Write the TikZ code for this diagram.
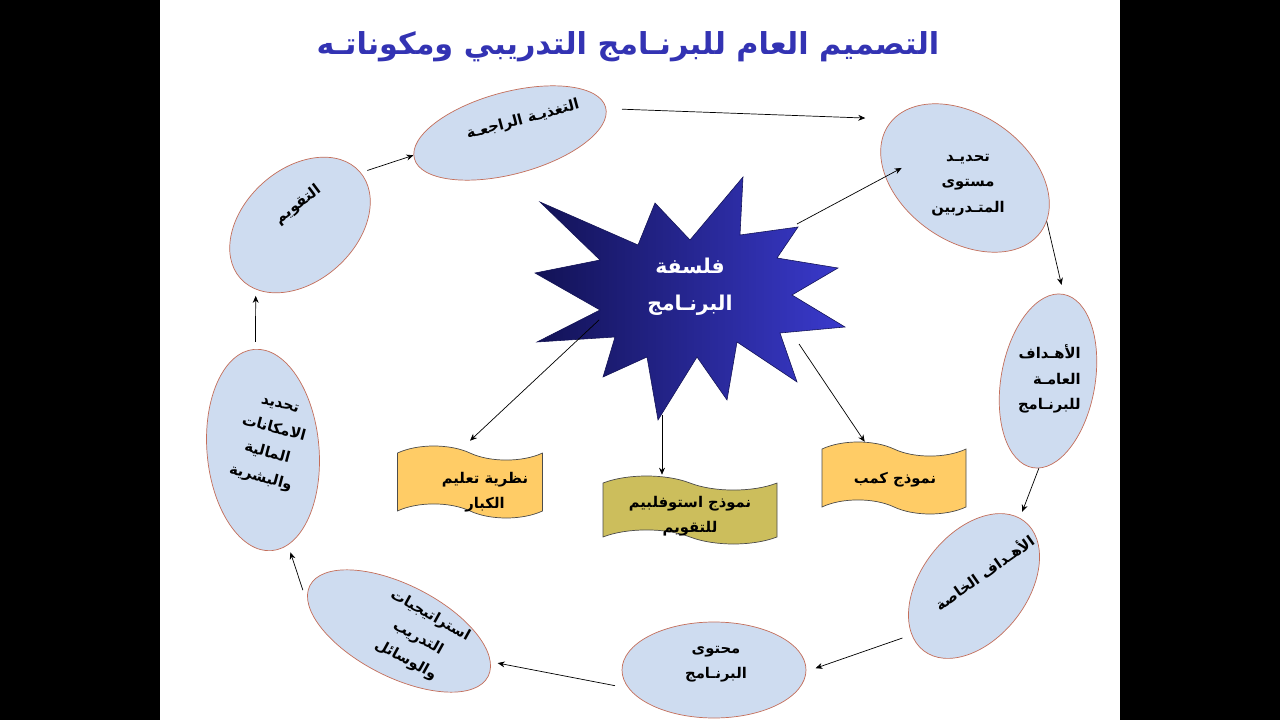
\documentclass[tikz,border=0pt]{standalone}
\usepackage{fontspec}
\usetikzlibrary{shapes.geometric,shapes.symbols,arrows.meta,calc}
\newfontfamily\arabicfont[Script=Arabic]{DejaVu Sans}
\TeXXeTstate=1
\newdimen\upx \upx=0.025cm
\newcommand{\artx}[1]{\beginR #1\endR}
\definecolor{titelblau}{RGB}{51,51,179}
\definecolor{ellfill}{RGB}{206,220,240}
\definecolor{ellrand}{RGB}{196,110,90}
\definecolor{gelb}{RGB}{255,204,102}
\definecolor{oliv}{RGB}{204,190,92}
\definecolor{sterndunkel}{RGB}{18,18,85}
\definecolor{sternhell}{RGB}{58,58,205}
\tikzset{
  ell/.style={ellipse, draw=ellrand, fill=ellfill, line width=0.5pt, inner sep=0pt},
  txt/.style={font=\arabicfont\bfseries\fontsize{10.5}{18}\selectfont, align=center, inner sep=0pt},
  flag/.style={tape, draw=black!70, line width=0.5pt, tape bend height=10pt, inner sep=0pt,
    tape bend top=out and in, tape bend bottom=out and in},
  arr/.style={-{Stealth[length=5pt,width=4.2pt]}, line width=0.5pt},
  stern/.style={left color=sterndunkel, right color=sternhell, draw=sterndunkel, line width=0.4pt},
}
\begin{document}
\begin{tikzpicture}[x=0.025cm, y=-0.025cm]
% Hintergrund
\fill[black] (0,0) rectangle (1280,720);
\fill[white] (160,0) rectangle (1120,720);
\useasboundingbox (0,0) rectangle (1280,720);

% Titel
\node[font=\arabicfont\bfseries\fontsize{21.5}{26}\selectfont, text=titelblau] (titel) at (628,47)
  {\artx{التصميم العام للبرنـامج التدريبي ومكوناتـه}};

% Ellipsen
\node[ell, minimum width=198\upx, minimum height=82\upx, rotate=15] (fb) at (510,133) {};
\node[ell, minimum width=160\upx, minimum height=112\upx, rotate=42] (ev) at (300,225) {};
\node[ell, minimum width=186\upx, minimum height=126\upx, rotate=-35] (lvl) at (965,178) {};
\node[ell, minimum width=176\upx, minimum height=94\upx, rotate=80] (gen) at (1048,381) {};
\node[ell, minimum width=164\upx, minimum height=106\upx, rotate=52] (spec) at (974,586) {};
\node[ell, minimum width=184\upx, minimum height=96\upx] (cont) at (714,670) {};
\node[ell, minimum width=200\upx, minimum height=92\upx, rotate=-27] (strat) at (399,631) {};
\node[ell, minimum width=202\upx, minimum height=112\upx, rotate=95] (res) at (263,450) {};

% Stern
\draw[stern] (540,202) -- (638,245) -- (655,203) -- (690,240) -- (743,177) -- (740,235)
  -- (798,227) -- (777,258) -- (838,268) -- (792,295) -- (845,327) -- (780,333)
  -- (797,382) -- (737,342) -- (727,400) -- (697,357) -- (658,420) -- (647,357)
  -- (603,377) -- (615,337) -- (537,342) -- (600,310) -- (535,273) -- (600,260) -- cycle;
\coordinate (s-ro) at (797,224);
\coordinate (s-lu) at (599,320);
\coordinate (s-u) at (662,415);
\coordinate (s-ru) at (799,344);

% Fahnen
\node[flag, fill=gelb, minimum width=145\upx, minimum height=72\upx] (nt) at (470,482) {};
\node[flag, fill=oliv, minimum width=174\upx, minimum height=68\upx] (st) at (690,510) {};
\node[flag, fill=gelb, minimum width=144\upx, minimum height=72\upx] (km) at (894,478) {};

% Verbindungen
\draw[arr] ($(fb.center)!1.16!(fb.-3)$) -- ($(lvl.center)!1.25!(lvl.184)$);
\draw[arr] (lvl.7) -- ($(gen.center)!1.10!(gen.2)$);
\draw[arr] (gen.184) -- ($(spec.center)!1.08!(spec.5)$);
\draw[arr] ($(spec.center)!1.13!(spec.164)$) -- ($(cont.center)!1.10!(cont.1)$);
\draw[arr] ($(cont.center)!1.12!(cont.189)$) -- ($(strat.center)!1.08!(strat.9)$);
\draw[arr] ($(strat.center)!1.05!(strat.184)$) -- ($(res.center)!1.08!(res.190)$);
\draw[arr] ($(res.center)!1.07!(res.-1)$) -- ($(ev.center)!1.08!(ev.196)$);
\draw[arr] ($(ev.center)!1.08!(ev.-3)$) -- (fb.178);
\draw[arr] (s-ro) -- ($(lvl.center)!0.76!(lvl.206)$);
\draw[arr] (s-lu) -- ($(nt.north)+(0,-12)$);
\draw[arr] (s-u) -- ($(s-u |- st.north)+(0,-8)$);
\draw[arr] (s-ru) -- (km.129);

% Texte
\node[txt, rotate=15] (fb-t) at (523,120) {\artx{التغذيـة الراجعـة}};
\node[txt, rotate=37] (ev-t) at (298,205) {\artx{التقويم}};
\node[txt] (lvl-t) at (968,185) {\artx{تحديـد}\\\artx{مستوى}\\\artx{المتـدربين}};
\node[txt, align=right, anchor=east] (gen-t) at (1081,379) {\artx{الأهـداف}\\\artx{العامـة}\\\artx{للبرنـامج}};
\node[txt, rotate=35] (spec-t) at (984,572) {\artx{الأهـداف الخاصة}};
\node[txt] (cont-t) at (716,664) {\artx{محتوى}\\\artx{البرنـامج}};
\node[txt, rotate=-29] (strat-t) at (418,638) {\artx{استراتيجيات}\\\artx{التدريب}\\\artx{والوسائل}};
\node[txt, rotate=-15] (res-t) at (270,443) {\artx{تحديد}\\\artx{الامكانات}\\\artx{المالية}\\\artx{والبشرية}};
\node[txt, font=\arabicfont\bfseries\fontsize{14.5}{26}\selectfont, text=white] (phil) at (690,287)
  {\artx{فلسفة}\\\artx{البرنـامج}};
\node[txt] (nt-t) at (485,492) {\artx{نظرية تعليم}\\\artx{الكبار}};
\node[txt] (st-t) at (690,516) {\artx{نموذج استوفلبيم}\\\artx{للتقويم}};
\node[txt] (km-t) at (895,480) {\artx{نموذج كمب}};
\end{tikzpicture}
\end{document}
